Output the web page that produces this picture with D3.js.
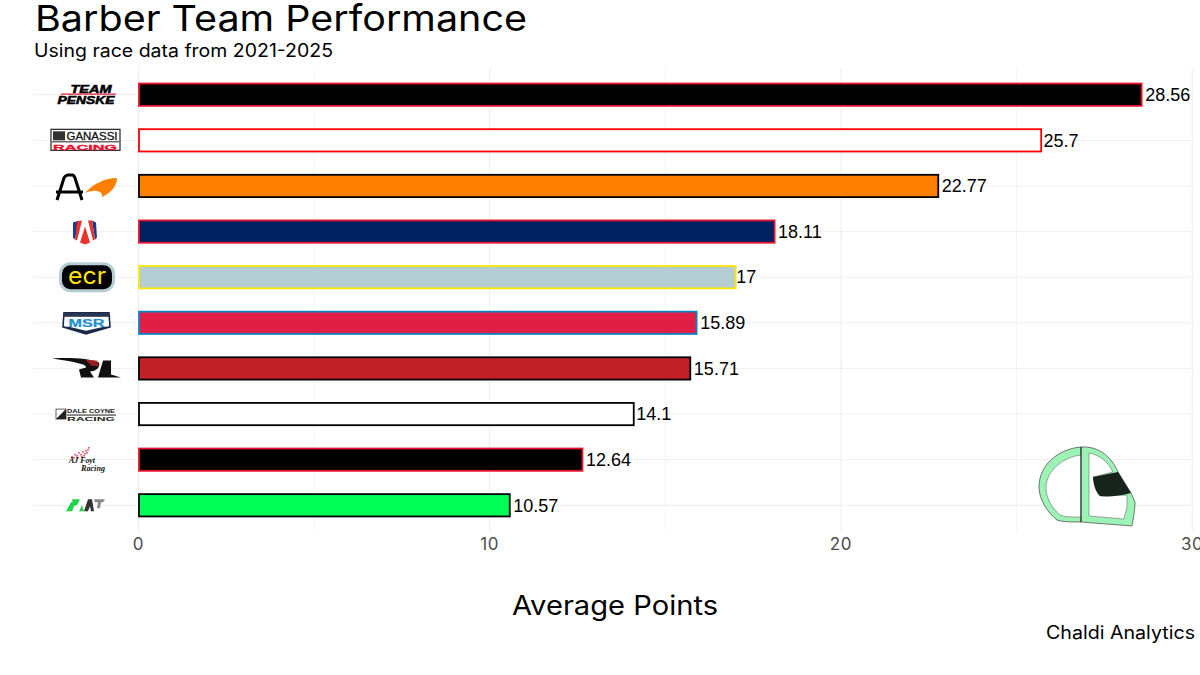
<!DOCTYPE html>
<html><head><meta charset="utf-8">
<script src="https://cdn.jsdelivr.net/npm/d3@7"></script>
<style>html,body{margin:0;padding:0;background:#fff;overflow:hidden}svg{display:block}</style>
</head><body><svg id="c" width="1200" height="675"></svg>
<script>
const teams = ["Penske","Ganassi","McLaren","Andretti","ECR","MSR","RLL","Coyne","Foyt","Juncos"];
const values = [28.56,25.7,22.77,18.11,17,15.89,15.71,14.1,12.64,10.57];
const fills = ["#000000","#ffffff","#ff8000","#00205f","#b5ced4","#e01e46","#c12126","#ffffff","#000000","#00ff55"];
const strokes = ["#e8112d","#ff0000","#000000","#e8112d","#ffe600","#0a84c6","#000000","#000000","#e8112d","#000000"];
const xTicks = [0,10,20,30];
const xMinor = [5,15,25];
const title = "Barber Team Performance";
const subtitle = "Using race data from 2021-2025";
const xTitle = "Average Points";
const caption = "Chaldi Analytics";
const F = "'Inter','Noto Sans',sans-serif";

const svg = d3.select("#c");
const x = d3.scaleLinear().domain([0,30]).range([138.5,1192.2]);
const y = d3.scaleBand().domain(teams).range([71.9,528.1]);
const cy = t => y(t)+y.bandwidth()/2;
const barH = 22.3;
const gridTop=67, gridBot=532, gridL=33, gridR=1194;

const g = svg.append("g");
g.selectAll(".maj").data(xTicks).join("line").attr("x1",d=>x(d)).attr("x2",d=>x(d)).attr("y1",gridTop).attr("y2",gridBot).attr("stroke","#ededed").attr("stroke-width",1);
g.selectAll(".min").data(xMinor).join("line").attr("x1",d=>x(d)).attr("x2",d=>x(d)).attr("y1",gridTop).attr("y2",gridBot).attr("stroke","#f4f4f4").attr("stroke-width",1);
g.selectAll(".h").data(teams).join("line").attr("x1",gridL).attr("x2",gridR).attr("y1",cy).attr("y2",cy).attr("stroke","#efefef").attr("stroke-width",1);

svg.selectAll(".bar").data(teams).join("rect")
 .attr("x",x(0)+0.5).attr("y",t=>cy(t)-barH/2).attr("height",barH)
 .attr("width",(t,i)=>x(values[i])-x(0)-0.5)
 .attr("fill",(t,i)=>fills[i]).attr("stroke",(t,i)=>strokes[i]).attr("stroke-width",1.8);

svg.selectAll(".val").data(teams).join("text")
 .attr("y",t=>cy(t)+6.3)
 .attr("font-family","'Liberation Sans',Arial,sans-serif").attr("font-size",18).attr("fill","#000")
 .text((t,i)=>values[i])
 .attr("x",function(t,i){return x(values[i])+0.115*this.getComputedTextLength()-1.6;});

svg.selectAll(".xt").data(xTicks).join("text").attr("x",d=>x(d)).attr("y",550).attr("text-anchor","middle")
 .attr("font-family",F).attr("font-weight",400).attr("font-size",17).attr("letter-spacing",0.6).attr("fill","#4d4d4d").text(d=>d);

function T(s,xx,yy,size,len,w){return svg.append("text").attr("x",xx).attr("y",yy).attr("font-family",F).attr("font-size",size).attr("font-weight",w).attr("fill","#000").attr("textLength",len).attr("lengthAdjust","spacingAndGlyphs").text(s);}
T(title,35,31,35.5,492,400);
T(subtitle,34,57,18,299,400);
T(xTitle,512,615,26.5,206,400);
T(caption,1046,639,18,149,400);

const logos = svg.append("g");
const B="'Liberation Sans'";
function lg(i){ return logos.append("g").attr("transform",`translate(85,${cy(teams[i])})`); }
function tx(p,s,xx,yy,size,len,fill,opt={}){return p.append("text").attr("x",xx).attr("y",yy).attr("text-anchor","middle").attr("font-family",opt.f||B).attr("font-weight",opt.w||700).attr("font-style",opt.i?"italic":"normal").attr("font-size",size).attr("fill",fill).attr("textLength",len).attr("lengthAdjust","spacingAndGlyphs").attr("stroke",opt.s?fill:"none").attr("stroke-width",opt.s||0).text(s);}
let p = lg(0);
tx(p,"TEAM",6,-1.5,10.5,41,"#000",{i:1,s:.5});
p.append("rect").attr("x",-24).attr("y",-1.2).attr("width",55).attr("height",1.2).attr("fill","#e8112d");
tx(p,"PENSKE",1,9,10,57,"#000",{i:1,s:.5});
p = lg(1);
p.append("rect").attr("x",-34).attr("y",-11).attr("width",69).attr("height",21).attr("fill","#fff").attr("stroke","#222").attr("stroke-width",1.2);
p.append("rect").attr("x",-32).attr("y",-9).attr("width",12).attr("height",9).attr("fill","#333");
tx(p,"GANASSI",7,-0.5,11.5,51,"#111",{w:400,s:.3});
p.append("rect").attr("x",-33).attr("y",1).attr("width",67).attr("height",1).attr("fill","#222");
tx(p,"RACING",0,9.3,7.5,64,"#e8112d",{s:.3});
p = lg(2);
p.append("path").attr("d","M-28 14L-21 -8Q-19 -11 -17 -11L-13 -11Q-11 -11 -10 -8L-3 14M-29 6L-23 6L-12 6L-2 6").attr("fill","none").attr("stroke","#000").attr("stroke-width",3);
p.append("path").attr("d","M0 7C8 -2 20 -8 32 -8C32 0 26 7 17 11C18 5 10 3 0 7Z").attr("fill","#ff8000");
p = lg(3);
p.append("path").attr("d","M-12 -9L-6 -11L-10 8L-12 6Z").attr("fill","#1a3a8f");
p.append("path").attr("d","M-8 -10L-3 -11L-8 9L-10 8Z").attr("fill","#e8332d");
p.append("path").attr("d","M7 -11L11 -9L12 6L10 8Z").attr("fill","#1a3a8f");
p.append("path").attr("d","M3 -11L7 -11L10 8L8 9Z").attr("fill","#e8332d");
p.append("path").attr("d","M0 -5L5 11L0 13L-5 11Z").attr("fill","#e8332d");
p = lg(4);
p.append("rect").attr("x",-24.5).attr("y",-13.5).attr("width",53).attr("height",27).attr("rx",10).attr("fill","#000").attr("stroke","#b5ced4").attr("stroke-width",3);
tx(p,"ecr",2,6.5,24,38,"#ffe600",{f:"'Inter'",w:400});
p = lg(5);
p.append("path").attr("d","M-21 -10L24 -10L25 4L1 11L-22 4Z").attr("fill","#fff").attr("stroke","#1b2a4a").attr("stroke-width",1.6);
p.append("rect").attr("x",-21).attr("y",-10).attr("width",45).attr("height",4).attr("fill","#2a3550");
tx(p,"MSR",1.5,4,11,36,"#1c8fd0",{s:.2});
p.append("path").attr("d","M-22 4L1 11L25 4L19 4L1 8L-16 4Z").attr("fill","#1b2a4a");
p = lg(6);
p.append("path").attr("d","M-33 -10C-15 -11 5 -10 14 -6C16 0 9 3 5 3L9 9L-4 9L-6 1L1 -1C2 -5 -15 -7 -33 -10Z").attr("fill","#111");
p.append("path").attr("d","M0 -9L12 -8L14 -2L6 -3Z").attr("fill","#c12126").attr("opacity",.75);
p.append("path").attr("d","M18 -8L26 -8L26 6L36 9L13 9Z").attr("fill","#111");
p = lg(7);
p.append("path").attr("d","M-29 5L-19 -5L-19 5Z").attr("fill","#222");
p.append("rect").attr("x",-29).attr("y",-5).attr("width",10).attr("height",10).attr("fill","none").attr("stroke","#222").attr("stroke-width",.7);
tx(p,"DALE COYNE",6,-1.2,5,48,"#222");
p.append("rect").attr("x",-18).attr("y",0.5).attr("width",49).attr("height",1).attr("fill","#222");
tx(p,"RACING",6,6.5,5,48,"#222");
p = lg(8);
const foytX=[-13,-10,-8,-6,-4,-2,0,1,3,4,-11,-7,-3,-1,2];
const foytY=[-3,-5,-4,-7,-5,-8,-6,-9,-10,-12,-2,-2,-3,-4,-7];
p.selectAll("circle").data(foytX).join("circle").attr("cx",d=>d).attr("cy",(d,i)=>foytY[i]).attr("r",1).attr("fill","#e06070");
tx(p,"AJ Foyt",-3,3,8.5,26,"#111",{f:"'Liberation Serif'",i:1});
tx(p,"Racing",8,11,7.5,24,"#111",{f:"'Liberation Serif'",i:1});
p = lg(9);
p.append("path").attr("d","M-19 6L-14 -3L-9 -3L-13 6Z M-13 -6L-5 -6L-8 0L-12 0Z M-6 6L-3 0L-1 6Z").attr("fill","#22d34a");
p.append("path").attr("d","M-1 6L3 -6L7 -6L9 6L6 6L5 1L3 6Z").attr("fill","#333");
p.append("path").attr("d","M9 -6L20 -6L18 -3L16 -3L15 3L12 3L13 -3L10 -3Z").attr("fill","#888");

const h = svg.append("g").attr("transform","translate(1020,430)");
h.append("path").attr("d","M61 17C38 19 19 35 19 57C19 70 28 83 37 90C42 92 52 92 61 92Z").attr("fill","#9df2b5").attr("stroke","#555").attr("stroke-width",.8);
h.append("path").attr("d","M61 25C44 27 26 40 26 58C26 68 32 78 40 85C45 87 52 87 61 87Z").attr("fill","#fff").attr("stroke","#555").attr("stroke-width",.5);
h.append("path").attr("d","M61 17C80 16 92 28 98 42L111 63L115 72C115 80 113 90 112 96L61 92Z").attr("fill","#9df2b5").attr("stroke","#555").attr("stroke-width",.8);
h.append("path").attr("d","M69 23C80 25 88 32 93 42L73 47L80 66L107 65L107 77L104 89L69 86Z").attr("fill","#fff").attr("stroke","#555").attr("stroke-width",.5);
h.append("path").attr("d","M73 47L98 42L111 63C100 66 88 67 80 66C75 62 73 52 73 47Z").attr("fill","#17241b");
h.append("line").attr("x1",61).attr("x2",61).attr("y1",17).attr("y2",92).attr("stroke","#333").attr("stroke-width",1);
</script></body></html>
